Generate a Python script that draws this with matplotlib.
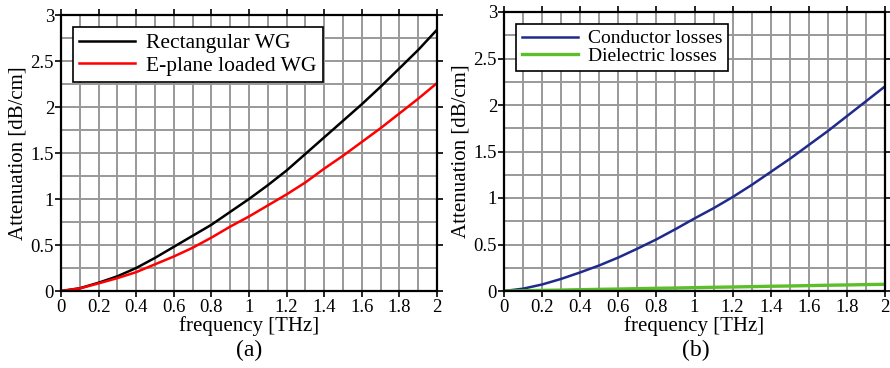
import matplotlib
matplotlib.use("Agg")
import matplotlib.pyplot as plt
from matplotlib.ticker import MultipleLocator, FuncFormatter

plt.rcParams['font.family'] = ['Liberation Serif', 'DejaVu Serif']

# frequency points [THz]
freq = [0.0, 0.1, 0.2, 0.3, 0.4, 0.5, 0.6, 0.7, 0.8, 0.9, 1.0,
        1.1, 1.2, 1.3, 1.4, 1.5, 1.6, 1.7, 1.8, 1.9, 2.0]

# (a) attenuation [dB/cm]
rect_wg = [0.0, 0.03, 0.09, 0.16, 0.25, 0.36, 0.48, 0.60, 0.72, 0.86, 1.0,
           1.15, 1.31, 1.49, 1.67, 1.85, 2.03, 2.22, 2.42, 2.62, 2.84]
eplane_wg = [0.0, 0.028, 0.083, 0.14, 0.205, 0.29, 0.375, 0.47, 0.58, 0.70, 0.81,
             0.93, 1.05, 1.18, 1.33, 1.47, 1.62, 1.77, 1.93, 2.09, 2.26]

# (b) attenuation [dB/cm]
conductor = [0.0, 0.025, 0.07, 0.13, 0.20, 0.275, 0.36, 0.455, 0.555, 0.665, 0.78,
             0.89, 1.01, 1.14, 1.28, 1.42, 1.57, 1.72, 1.88, 2.04, 2.20]
dielectric = [0.0, 0.003, 0.007, 0.010, 0.014, 0.018, 0.021, 0.025, 0.029, 0.032, 0.036,
              0.040, 0.043, 0.047, 0.051, 0.054, 0.058, 0.062, 0.065, 0.069, 0.072]

fig = plt.figure(figsize=(8.9, 3.68), dpi=100)
ax1 = fig.add_axes([61/890, 1-291/368, 376/890, 276/368])
ax2 = fig.add_axes([504/890, 1-291/368, 381/890, 279/368])


def style_axes(ax):
    ax.set_xlim(0, 2)
    ax.set_ylim(0, 3)
    ax.xaxis.set_major_locator(MultipleLocator(0.2))
    ax.xaxis.set_minor_locator(MultipleLocator(0.1))
    ax.yaxis.set_major_locator(MultipleLocator(0.5))
    ax.yaxis.set_minor_locator(MultipleLocator(0.25))
    ax.xaxis.set_major_formatter(FuncFormatter(lambda v, p: "%g" % round(v, 2)))
    ax.yaxis.set_major_formatter(FuncFormatter(lambda v, p: "%g" % round(v, 2)))
    ax.grid(True, which='both', color='#999999', linewidth=1.4)
    ax.set_axisbelow(True)
    for s in ax.spines.values():
        s.set_linewidth(1.6)
    ax.tick_params(which='major', direction='out', length=4, width=1.2, labelsize=13.5,
                   pad=1, top=True, right=True)
    ax.tick_params(axis='x', which='major', bottom=True, length=0, pad=2)
    ax.tick_params(axis='x', which='major', top=True, length=4)
    ax.tick_params(which='minor', length=0)
    ax.set_xlabel("frequency [THz]", fontsize=15, labelpad=0)
    ax.set_ylabel("Attenuation [dB/cm]", fontsize=15, labelpad=2)


style_axes(ax1)
ax1.plot(freq, rect_wg, color='black', linewidth=1.8, label='Rectangular WG')
ax1.plot(freq, eplane_wg, color='#ff0000', linewidth=1.8, label='E-plane loaded WG')
leg = ax1.legend(loc='upper left', bbox_to_anchor=(0.032, 0.957), borderaxespad=0,
                 fontsize=15.5, fancybox=False, framealpha=1, edgecolor='black',
                 handlelength=2.6, handletextpad=0.5, borderpad=0.3, labelspacing=0.1)
leg.get_frame().set_linewidth(1.2)

style_axes(ax2)
ax2.plot(freq, conductor, color='#1f2a8c', linewidth=1.8, label='Conductor losses')
ax2.plot(freq, dielectric, color='#5cbf2a', linewidth=2.4, label='Dielectric losses')
leg = ax2.legend(loc='upper left', bbox_to_anchor=(0.031, 0.957), borderaxespad=0,
                 fontsize=14, fancybox=False, framealpha=1, edgecolor='black',
                 handlelength=2.9, handletextpad=0.5, borderpad=0.3, labelspacing=0.0)
leg.get_frame().set_linewidth(1.2)

fig.text(249/890, 1-350/368, "(a)", ha='center', va='center', fontsize=17)
fig.text(696/890, 1-350/368, "(b)", ha='center', va='center', fontsize=17)

fig.savefig("out.png", dpi=100)
